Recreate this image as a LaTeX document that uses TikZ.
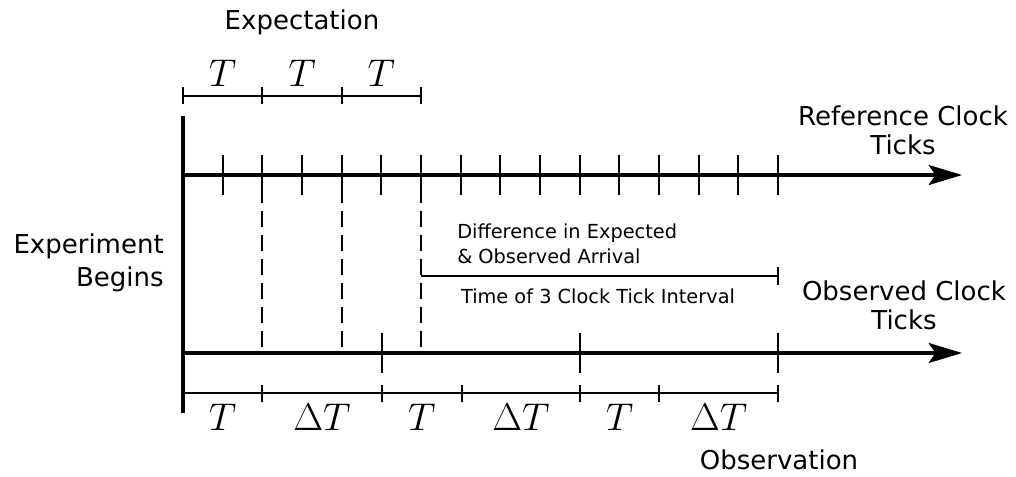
\RequirePackage{fix-cm}
\documentclass[tikz,border=0pt]{standalone}
\usepackage[no-math]{fontspec}
\setmainfont{DejaVu Sans}
\usetikzlibrary{arrows.meta}
\tikzset{
  clock axis/.style={-{Stealth[length=25pt,width=15pt,inset=5pt]},line width=2.5pt},
  clock start/.style={line width=2.6pt},
  clock tick/.style={line width=1.5pt},
  span bar/.style={line width=1.5pt},
  guide line/.style={line width=1.5pt,dash pattern=on 12pt off 6pt},
  clock label/.style={font=\fontsize{19.5}{22}\selectfont,align=center,inner sep=0pt},
  clock note/.style={font=\fontsize{14.5}{18.75}\selectfont,inner sep=0pt},
  span label/.style={font=\fontsize{29}{34}\selectfont,inner sep=0pt,anchor=base}
}

\begin{document}
\begin{tikzpicture}[x=0.75pt,y=-0.75pt]
  \useasboundingbox (0,0) rectangle (1016,476);
  % the two clocks
  \coordinate (start top) at (183,116);
  \coordinate (start bottom) at (183,413);
  \coordinate (ref start) at (183,175);
  \coordinate (ref end) at (962,175);
  \coordinate (obs start) at (183,353);
  \coordinate (obs end) at (962,353);
  \draw[clock start] (start top) -- (start bottom);
  \draw[clock axis] (ref start) -- (ref end);
  \draw[clock axis] (obs start) -- (obs end);

  \foreach \k in {1,...,15}
    \draw[clock tick] (183+\k*39.67,155) -- (183+\k*39.67,195);
  \foreach \x in {382,580,778}
    \draw[clock tick] (\x,333) -- (\x,373);
  \foreach \x in {262.3,341.7,421}
    \draw[guide line] (\x,187) -- (\x,347);

  % expected intervals
  \draw[span bar] (183,96) -- (421,96);
  \foreach \x in {183,262.3,341.7,421}
    \draw[span bar] (\x,87) -- (\x,104);
  \foreach \x/\n in {222.7/1,302/2,381.3/3}
    \node[span label] (exp T\n) at (\x,86) {$T$};

  % observed intervals
  \draw[span bar] (183,393) -- (778,393);
  \foreach \x in {262.3,382,461.5,580,659.3,778}
    \draw[span bar] (\x,385) -- (\x,402);
  \foreach \x/\t/\n in {222.7/T/1,322/\Delta T/2,421.8/T/3,521/\Delta T/4,619.6/T/5,718.7/\Delta T/6}
    \node[span label] (obs T\n) at (\x,430) {$\t$};

  % difference
  \coordinate (diff start) at (421,276);
  \coordinate (diff end) at (778,276);
  \draw[span bar] (diff start) -- (diff end);
  \draw[span bar] (778,267) -- (778,285);

  \node[clock label,anchor=base] (expectation) at (302,29) {Expectation};
  \node[clock label] (ref label) at (903,130) {Reference Clock\\Ticks};
  \node[clock label] (obs label) at (904,305) {Observed Clock\\Ticks};
  \node[clock label,align=right,anchor=east,font=\fontsize{19.5}{24.5}\selectfont]
    (begin label) at (164,263) {Experiment\\Begins};
  \node[clock note,align=left,anchor=west] (diff label) at (457,244)
    {Difference in Expected\\\& Observed Arrival};
  \node[clock note] (interval label) at (598,296) {Time of 3 Clock Tick Interval};
  \node[clock label,anchor=base] (observation) at (779,469) {Observation};
\end{tikzpicture}
\end{document}
